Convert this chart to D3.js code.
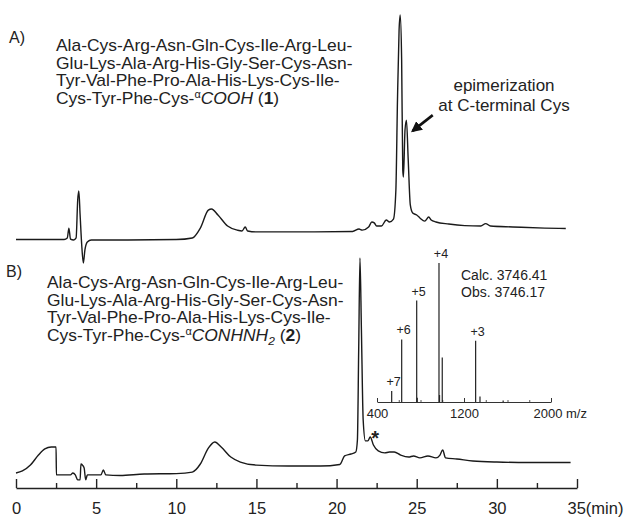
<!DOCTYPE html>
<html>
<head>
<meta charset="utf-8">
<script src="https://d3js.org/d3.v7.min.js"></script>
<style>
  body { margin: 0; background: #fff; }
  svg { display: block; }
  text { font-family: "Liberation Sans", Arial, sans-serif; fill: #222; }
</style>
</head>
<body>
<script>
var width = 627;
var height = 520;

// retention time axis (min)
var timeTicks = [0, 5, 10, 15, 20, 25, 30, 35];
var timeMinor = [2.5, 7.5, 12.5, 17.5, 22.5, 27.5, 32.5];

// chromatogram A, [time, signal] (signal scaled so main peak = 100)
var traceA = [
  [0, 0.2], [3.0, 0.2], [3.2, 0.9], [3.3, 5.3], [3.4, 0.4], [3.6, 0], [3.75, 0.9],
  [3.85, 17.8], [3.92, 21.8], [4.0, 11.1], [4.1, -2.2], [4.2, -10.2], [4.3, -4.4],
  [4.45, -0.9], [4.7, 0], [6, 0], [10, 0.2], [11, 0.9], [11.5, 5.3], [12.0, 13.3],
  [12.2, 13.8], [12.6, 11.1], [13.2, 6.2], [13.8, 4.4], [14.1, 4.0], [14.3, 5.8],
  [14.45, 4.0], [15, 3.6], [18, 3.6], [21, 3.8], [21.4, 4.9], [21.6, 4.4], [22.0, 5.8],
  [22.2, 8.0], [22.35, 7.6], [22.5, 6.2], [22.8, 6.2], [23.1, 8.9], [23.3, 8.0],
  [23.55, 9.3], [23.7, 22.2], [23.8, 62.2], [23.9, 93.3], [23.97, 100], [24.06, 80],
  [24.13, 31.1], [24.17, 28], [24.27, 48.9], [24.36, 53.3], [24.47, 35.6], [24.6, 15.6],
  [24.75, 12], [25.0, 11.1], [25.2, 9.8], [25.5, 8.4], [25.75, 10.2], [25.9, 8.9],
  [26.2, 8.0], [27, 7.1], [28, 6.4], [29, 6.2], [29.3, 7.3], [29.6, 6.2], [31, 5.8],
  [33, 5.3], [34.3, 5.1]
];

// chromatogram B, [time, signal]
var traceB = [
  [0, 1.4], [0.4, 2.3], [0.9, 5.0], [1.4, 9.6], [1.8, 12.4], [2.2, 13.3], [2.5, 13.3],
  [2.52, 0.5], [3.4, 0.5], [3.55, 1.4], [3.7, 0.5], [3.85, -1.8], [4.0, -1.8],
  [4.05, 5.5], [4.15, 5.0], [4.25, 3.7], [4.35, -1.8], [4.45, 0.5], [5.3, 0.5],
  [5.45, 2.8], [5.6, 0.5], [6.5, 0.2], [8, 0.9], [10, 1.1], [11, 1.8], [11.5, 5.5],
  [12, 12.8], [12.4, 15.6], [12.8, 13.3], [13.4, 8.7], [14, 6.4], [15, 5.0], [17, 4.6],
  [19, 4.6], [20.2, 5.3], [20.5, 9.2], [20.9, 10.1], [21.2, 11.0], [21.3, 16.5],
  [21.38, 57.8], [21.46, 100], [21.55, 67], [21.66, 25.7], [21.8, 16.1], [21.95, 16.1],
  [22.1, 17.9], [22.3, 14.2], [22.6, 11.5], [23.0, 10.6], [23.3, 11.0], [23.6, 11.0],
  [24, 9.6], [24.5, 8.7], [24.8, 9.2], [25.2, 8.3], [25.7, 9.2], [26.2, 8.3],
  [26.45, 9.6], [26.62, 11.9], [26.8, 8.3], [27.5, 7.8], [28.5, 6.9], [30, 6.4],
  [32, 6.2], [34.6, 6.2]
];

// ESI-MS inset
var msTicks = [400, 1200, 2000];
var msMinor = [600, 800, 1000, 1400, 1600, 1800];
var msMz = [535, 627, 765, 770, 970, 975, 1000, 1307, 1347, 1560];
var msIntensity = [8, 45, 73, 3, 100, 5, 32, 44, 4, 1];
var msCharge = ["+7", "+6", "+5", "", "+4", "", "", "+3", "", ""];

var peptideLines = [
  "Ala-Cys-Arg-Asn-Gln-Cys-Ile-Arg-Leu-",
  "Glu-Lys-Ala-Arg-His-Gly-Ser-Cys-Asn-",
  "Tyr-Val-Phe-Pro-Ala-His-Lys-Cys-Ile-",
  "Cys-Tyr-Phe-Cys-"
];

var fontFam = "'Liberation Sans', Arial, sans-serif";

var svgContainer = d3.select("body").append("svg")
  .attr("width", width)
  .attr("height", height);

var x = d3.scaleLinear().domain([0, 35]).range([16, 577]);
var yA = d3.scaleLinear().domain([0, 100]).range([240, 15]);
var yB = d3.scaleLinear().domain([0, 100]).range([476, 258]);

var lineA = d3.line().x(function (d) { return x(d[0]); }).y(function (d) { return yA(d[1]); })
  .curve(d3.curveMonotoneX);
var lineB = d3.line().x(function (d) { return x(d[0]); }).y(function (d) { return yB(d[1]); })
  .curve(d3.curveMonotoneX);

svgContainer.append("path")
  .attr("d", lineA(traceA))
  .attr("fill", "none")
  .attr("stroke", "#1a1a1a")
  .attr("stroke-width", 1.4);

svgContainer.append("path")
  .attr("d", lineB(traceB))
  .attr("fill", "none")
  .attr("stroke", "#1a1a1a")
  .attr("stroke-width", 1.4);

// time axis
var axisG = svgContainer.append("g")
  .attr("transform", "translate(0,488)")
  .call(d3.axisBottom(x).tickValues(timeTicks).tickSizeInner(-9).tickSizeOuter(0).tickPadding(14))
  .attr("font-size", 16.5)
  .attr("font-family", fontFam);
axisG.select(".domain").attr("stroke", "#222").attr("stroke-width", 1.4);
axisG.selectAll(".tick line").attr("stroke", "#222").attr("stroke-width", 1.4);
axisG.selectAll(".tick text").attr("fill", "#222");
axisG.selectAll(".tick").filter(function (d) { return d === 35; }).select("text")
  .attr("text-anchor", "start").attr("x", -10)
  .append("tspan").text("(min)");

var minorG = svgContainer.append("g")
  .attr("transform", "translate(0,488)")
  .call(d3.axisBottom(x).tickValues(timeMinor).tickSizeInner(-5).tickSizeOuter(0).tickFormat(""));
minorG.select(".domain").remove();
minorG.selectAll(".tick line").attr("stroke", "#222").attr("stroke-width", 1.4);

// panel labels
svgContainer.append("text").attr("x", 9).attr("y", 43).attr("font-size", 16).text("A)");
svgContainer.append("text").attr("x", 6).attr("y", 277).attr("font-size", 16).text("B)");

// peptide sequences
function drawPeptide(x0, y0, tail, num) {
  var g = svgContainer.append("g")
    .attr("transform", "translate(" + x0 + "," + y0 + ") scale(1.09,1)")
    .attr("font-size", 16);
  peptideLines.forEach(function (s, i) {
    var t = g.append("text").attr("x", 0).attr("y", i * 17.6).text(s);
    if (i === peptideLines.length - 1) {
      t.append("tspan").attr("font-size", 10).attr("dy", -6).text("\u03b1");
      t.append("tspan").attr("dy", 6).attr("font-style", "italic").text(tail[0]);
      if (tail[1]) {
        t.append("tspan").attr("font-style", "italic").attr("font-size", 11).attr("dy", 4).text(tail[1]);
        t.append("tspan").attr("dy", -4).text(" (");
      } else {
        t.append("tspan").text(" (");
      }
      t.append("tspan").attr("font-weight", "bold").text(num);
      t.append("tspan").text(")");
    }
  });
}
drawPeptide(56, 51, ["COOH"], "1");
drawPeptide(47, 288, ["CONHNH", "2"], "2");

// epimerization note
var note = svgContainer.append("g").attr("font-size", 17).attr("text-anchor", "middle");
note.append("text").attr("x", 504).attr("y", 91).text("epimerization");
note.append("text").attr("x", 504).attr("y", 111).text("at C-terminal Cys");

svgContainer.append("defs").append("marker")
  .attr("id", "arrowHead")
  .attr("viewBox", "0 0 10 10")
  .attr("refX", 8).attr("refY", 5)
  .attr("markerWidth", 4.2).attr("markerHeight", 4.2)
  .attr("orient", "auto")
  .append("path").attr("d", "M0,0L10,5L0,10Z").attr("fill", "#111");

svgContainer.append("line")
  .attr("x1", x(26.0)).attr("y1", yA(55.5))
  .attr("x2", x(24.75)).attr("y2", yA(48.5))
  .attr("stroke", "#111").attr("stroke-width", 2.6)
  .attr("marker-end", "url(#arrowHead)");

// asterisk on B impurity
svgContainer.append("text").attr("x", x(22.4)).attr("y", yB(14)).attr("font-size", 20)
  .attr("font-weight", "bold").attr("text-anchor", "middle").text("*");

// MS inset
var mz = d3.scaleLinear().domain([400, 2000]).range([377, 551]);
var yMs = d3.scaleLinear().domain([0, 100]).range([402, 263]);

var msG = svgContainer.append("g");
var msAxis = msG.append("g")
  .attr("transform", "translate(0,402)")
  .call(d3.axisBottom(mz).tickValues(msTicks).tickFormat(d3.format("d"))
    .tickSizeInner(-4).tickSizeOuter(0).tickPadding(7))
  .attr("font-size", 13)
  .attr("font-family", fontFam);
msAxis.select(".domain").attr("stroke", "#333").attr("stroke-width", 1);
msAxis.selectAll(".tick line").attr("stroke", "#333");
msAxis.selectAll(".tick text").attr("fill", "#222");
msAxis.selectAll(".tick").filter(function (d) { return d === 2000; }).select("text")
  .attr("text-anchor", "start").attr("x", -18)
  .append("tspan").text(" m/z");

var msMinorG = msG.append("g")
  .attr("transform", "translate(0,402)")
  .call(d3.axisBottom(mz).tickValues(msMinor).tickSizeInner(-2).tickSizeOuter(0).tickFormat(""));
msMinorG.select(".domain").remove();
msMinorG.selectAll(".tick line").attr("stroke", "#555");

msG.selectAll("line.peak")
  .data(msMz)
  .enter().append("line")
  .attr("class", "peak")
  .attr("x1", function (d) { return mz(d); })
  .attr("x2", function (d) { return mz(d); })
  .attr("y1", yMs(0))
  .attr("y2", function (d, i) { return yMs(msIntensity[i]); })
  .attr("stroke", "#222")
  .attr("stroke-width", 1.2);

msG.selectAll("text.charge")
  .data(msMz)
  .enter().append("text")
  .attr("class", "charge")
  .attr("x", function (d) { return mz(d) + 2; })
  .attr("y", function (d, i) { return yMs(msIntensity[i]) - 5; })
  .attr("font-size", 12.5)
  .attr("text-anchor", "middle")
  .text(function (d, i) { return msCharge[i]; });

var massText = msG.append("g").attr("font-size", 14);
massText.append("text").attr("x", 461).attr("y", 280).text("Calc. 3746.41");
massText.append("text").attr("x", 461).attr("y", 297).text("Obs. 3746.17");
</script>
</body>
</html>
